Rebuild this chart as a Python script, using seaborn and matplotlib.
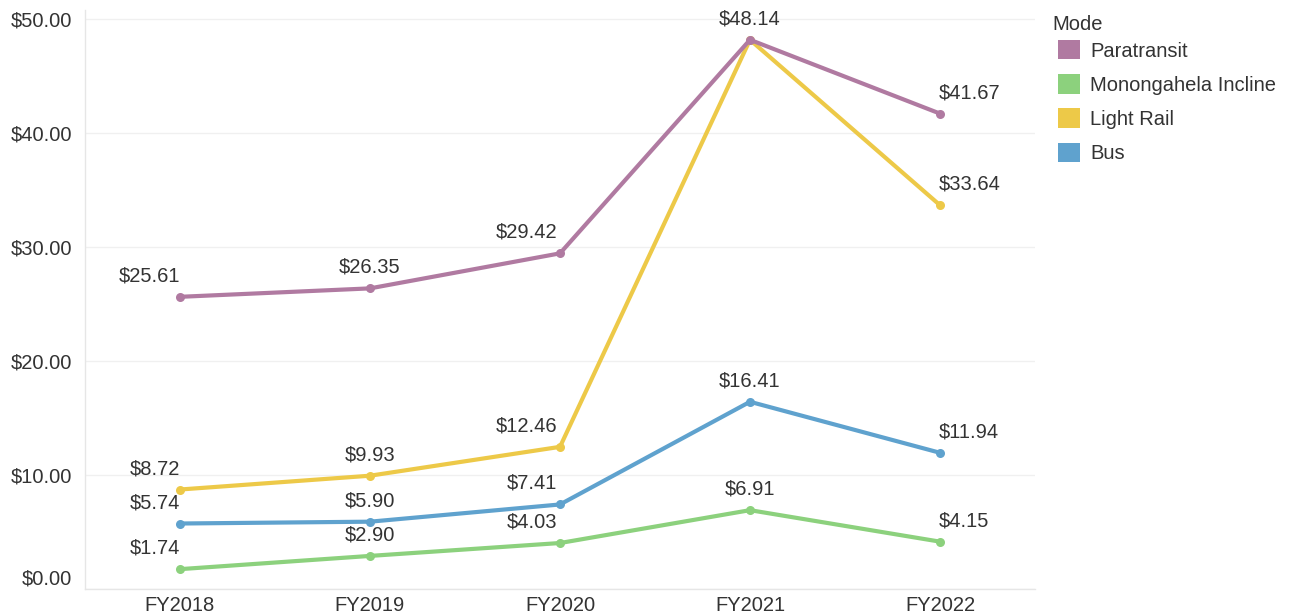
import pandas as pd
import numpy as np
import matplotlib
matplotlib.use('Agg')
import matplotlib.pyplot as plt
import seaborn as sns
from matplotlib.patches import Patch

# Cost per passenger by mode, FY2018-FY2022
years = ['FY2018', 'FY2019', 'FY2020', 'FY2021', 'FY2022']
modes = ['Paratransit', 'Monongahela Incline', 'Light Rail', 'Bus']
paratransit = [25.61, 26.35, 29.42, 48.14, 41.67]
incline = [1.74, 2.90, 4.03, 6.91, 4.15]
light_rail = [8.72, 9.93, 12.46, 48.14, 33.64]
bus = [5.74, 5.90, 7.41, 16.41, 11.94]
y_ticks = [0, 10, 20, 30, 40, 50]

colors = {'Paratransit': '#B07AA1', 'Monongahela Incline': '#8CD17D',
          'Light Rail': '#EDC948', 'Bus': '#5FA2CE'}

# long format for seaborn
df = pd.DataFrame({
    'year': years * 4,
    'mode': np.repeat(modes, len(years)),
    'cost': paratransit + incline + light_rail + bus,
})
df['x'] = df['year'].map({y: i for i, y in enumerate(years)})

sns.set_theme(style='white')
plt.rcParams['font.family'] = ['Liberation Sans', 'DejaVu Sans']
plt.rcParams['text.color'] = '#333333'
FS = 14.5

fig = plt.figure(figsize=(12.91, 6.15), dpi=100)
ax = fig.add_axes([85 / 1291, 26 / 615, 950 / 1291, 579 / 615])

# draw back-to-front so paratransit ends up on top
for m in ['Bus', 'Monongahela Incline', 'Light Rail', 'Paratransit']:
    sub = df[df['mode'] == m]
    sns.lineplot(data=sub, x='x', y='cost', color=colors[m], lw=3,
                 marker='o', markersize=6.5, markeredgewidth=0,
                 ax=ax, legend=False)

# value labels; alignment follows the reference layout
align = ['right', 'center', 'right', 'center', 'left']
dx = [0, 0, -3, 0, -1]
done = set()
for _, r in df.iterrows():
    i = int(r['x'])
    if (i, r['cost']) in done:  # overlapping point, label once
        continue
    done.add((i, r['cost']))
    ax.annotate(f"${r['cost']:.2f}", (i, r['cost']), xytext=(dx[i], 21),
                textcoords='offset pixels', ha=align[i], va='center',
                fontsize=FS, color='#333333')

ax.set_xlim(-0.5, 4.5)
ax.set_ylim(0, 50.75)
ax.set_xticks(range(len(years)))
ax.set_xticklabels(years)
ax.set_xticks(np.arange(-0.5, 5, 1), minor=True)
ax.set_yticks(y_ticks)
ax.set_yticklabels([f"${v:.2f}" for v in y_ticks])
ax.get_yticklabels()[0].set_va('bottom')
ax.tick_params(axis='x', which='major', length=0, pad=5, labelsize=FS, labelcolor='#333333')
ax.tick_params(axis='x', which='minor', length=8, color='#e6e6e6', width=1)
ax.tick_params(axis='y', length=0, pad=9, labelsize=FS, labelcolor='#333333')
ax.set_xlabel('')
ax.set_ylabel('')
ax.grid(axis='y', color='#f0f0f0', lw=1)
for s in ['top', 'right']:
    ax.spines[s].set_visible(False)
for s in ['left', 'bottom']:
    ax.spines[s].set_color('#e6e6e6')
    ax.spines[s].set_linewidth(1)

# legend: title drawn separately so the swatches sit slightly indented
fig.text(1052 / 1291, 1 - 24 / 615, 'Mode', fontsize=FS, va='center', ha='left')
handles = [Patch(facecolor=colors[m], edgecolor='none', label=m) for m in modes]
leg = fig.legend(handles=handles, loc='upper left',
                 bbox_to_anchor=(1058 / 1291, 1 - 40 / 615), frameon=False,
                 fontsize=FS, handlelength=1.1, handleheight=1.1,
                 labelspacing=0.68, handletextpad=0.5, borderpad=0,
                 borderaxespad=0)

fig.savefig('out.png', dpi=100)
